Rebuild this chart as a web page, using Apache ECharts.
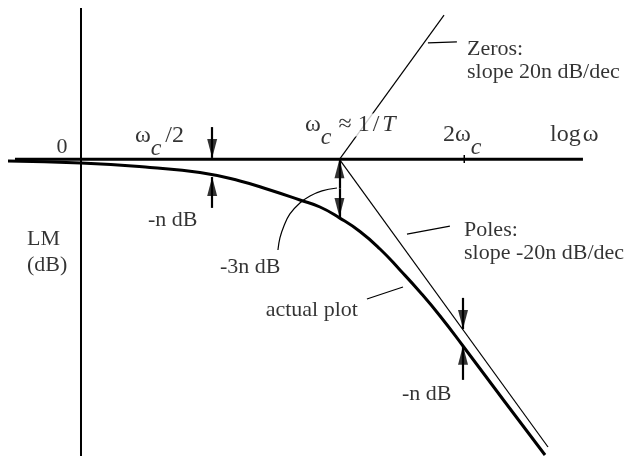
<!DOCTYPE html>
<html>
<head>
<meta charset="utf-8">
<script src="https://cdn.jsdelivr.net/npm/echarts@6/dist/echarts.min.js"></script>
<style>
  html, body { margin: 0; padding: 0; background: #fff; }
  #chart { width: 630px; height: 456px; }
</style>
</head>
<body>
<div id="chart"></div>
<script>
// x: octaves from the corner frequency (log2(w/wc)), y: dB in units of n
const FONT = 'Liberation Serif';

// actual plot
const curveX = [-2.656, -2.071, -1.518, -1.118, -0.797, -0.557, -0.317, -0.156, 0, 0.164, 0.325, 0.485, 0.645, 0.806, 0.990, 1.326, 1.647];
const curveY = [-0.087, -0.190, -0.420, -0.676, -1.112, -1.573, -2.085, -2.444, -3.0, -3.699, -4.595, -5.671, -6.798, -8.028, -9.565, -12.433, -15.148];

// straight-line asymptotes
const polesLine = [[0, 0], [1.671, -14.74]];
const zerosLine = [[0, 0], [0.838, 7.39]];

// axes
const hAxis = [[-2.6, 0], [1.951, 0]];
const vAxis = [[-2.071, 7.751], [-2.071, -15.3]];
const tick2wc = [[1.0, 0.22], [1.0, -0.19]];

// leader for "-3n dB"
const arcX = [-0.493, -0.477, -0.445, -0.397, -0.317, -0.236, -0.140, -0.020];
const arcY = [-4.65, -4.03, -3.42, -2.80, -2.24, -1.88, -1.62, -1.47];

// short leader lines for the notes
const leaders = [
    [[0.709, 5.96], [0.941, 6.01]],     // Zeros
    [[0.541, -3.83], [0.885, -3.42]],   // Poles
    [[0.220, -7.16], [0.509, -6.54]]    // actual plot
];

// arrows: shaft from -> tip
const arrows = [
    [[-1.02, 1.65], [-1.02, 0.07]],
    [[-1.02, -2.49], [-1.02, -0.91]],
    [[0, -1.5], [0, 0]],
    [[0, -1.5], [0, -2.96]],
    [[0.99, -7.1], [0.99, -8.7]],
    [[0.99, -11.3], [0.99, -9.55]]
];

// text notes
const notes = [
    { text: '0', at: [-2.224, 0.60], align: 'center' },
    { text: '{s|ω}{c|c}{t|/2}', at: [-1.639, 1.199] },
    { text: '{s|ω}{c|c}{s| ≈ 1}{sl|/}{i|T}', at: [-0.276, 1.762], mask: true },
    { text: '{s|2ω}{c|c}', at: [0.829, 1.25] },
    { text: '{s|log\u200Aω}', at: [1.687, 1.25] },
    { text: 'Zeros:\nslope 20n dB/dec', at: [1.022, 6.209], va: 'top' },
    { text: 'Poles:\nslope -20n dB/dec', at: [0.998, -3.063], va: 'top' },
    { text: 'actual plot', at: [0.148, -7.75], align: 'right' },
    { text: '-n dB', at: [-1.534, -3.14] },
    { text: '-3n dB', at: [-0.958, -5.55] },
    { text: 'LM\n(dB)', at: [-2.504, -3.448], va: 'top', lh: 26 },
    { text: '-n dB', at: [0.501, -12.05] }
];

const chart = echarts.init(document.getElementById('chart'), null, { renderer: 'canvas' });

const rich = {
    s: { fontFamily: FONT, fontSize: 24, color: '#000', verticalAlign: 'middle' },
    c: { fontFamily: FONT, fontSize: 24, fontStyle: 'italic', color: '#000', padding: [26, 1, 0, 0], verticalAlign: 'middle' },
    t: { fontFamily: FONT, fontSize: 24, color: '#000', padding: [0, 0, 0, 3], verticalAlign: 'middle' },
    sl: { fontFamily: FONT, fontSize: 24, color: '#000', padding: [0, 3, 0, 3], verticalAlign: 'middle' },
    i: { fontFamily: FONT, fontSize: 24, fontStyle: 'italic', color: '#000', verticalAlign: 'middle' }
};

const plain = (data, width) => ({
    type: 'line', data: data, symbol: 'none', silent: true,
    lineStyle: { color: '#000', width: width }
});

const option = {
    animation: false,
    backgroundColor: '#fff',
    grid: { left: 0, right: 0, top: 0, bottom: 0 },
    xAxis: { type: 'value', min: -2.72, max: 2.328, show: false },
    yAxis: { type: 'value', min: -15.2, max: 8.16, show: false },
    series: [
        plain(hAxis, 3),
        plain(vAxis, 2),
        plain(tick2wc, 1.5),
        plain(polesLine, 1.2),
        plain(zerosLine, 1.2),
        {
            type: 'line', symbol: 'none', smooth: 0.5, silent: true,
            data: curveX.map((x, i) => [x, curveY[i]]),
            lineStyle: { color: '#000', width: 3 }
        },
        {
            type: 'line', symbol: 'none', smooth: 0.4, silent: true,
            data: arcX.map((x, i) => [x, arcY[i]]),
            lineStyle: { color: '#000', width: 1.2 }
        },
        {
            type: 'lines', coordinateSystem: 'cartesian2d', silent: true,
            data: leaders.map(c => ({ coords: c })),
            lineStyle: { color: '#000', width: 1.2, opacity: 1, curveness: 0 }
        },
        {
            type: 'lines', coordinateSystem: 'cartesian2d', silent: true,
            data: arrows.map(c => ({ coords: c })),
            lineStyle: { color: '#000', width: 2.2, opacity: 1, curveness: 0 }
        },
        {
            // arrow heads sit with their tip on the arrow end
            type: 'scatter', silent: true, z: 5,
            symbol: 'triangle', symbolSize: [10, 19],
            data: arrows.map(a => {
                const down = a[1][1] < a[0][1];
                return {
                    value: a[1],
                    symbolRotate: down ? 180 : 0,
                    symbolOffset: [0, down ? '-50%' : '50%']
                };
            }),
            itemStyle: { color: '#000' }
        },
        {
            type: 'scatter', silent: true, z: 10,
            symbolSize: 1,
            itemStyle: { color: 'transparent' },
            data: notes.map(n => ({
                value: n.at,
                label: {
                    show: true,
                    position: 'inside',
                    formatter: n.text,
                    align: n.align || 'left',
                    verticalAlign: n.va || 'middle',
                    lineHeight: n.lh || 23,
                    fontFamily: FONT,
                    fontSize: 22,
                    color: '#000',
                    backgroundColor: n.mask ? '#fff' : 'transparent',
                    rich: rich
                }
            }))
        }
    ]
};

chart.setOption(option);
</script>
</body>
</html>
